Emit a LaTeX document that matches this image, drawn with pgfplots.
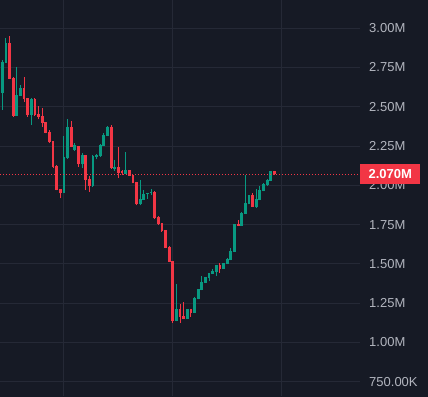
\documentclass[border=0pt]{standalone}
\usepackage{pgfplots}
\usepackage{pgfplotstable}
\usepackage{fontspec}
\setmainfont{Liberation Sans}
\pgfplotsset{compat=1.18}
\definecolor{bg}{HTML}{161A25}
\definecolor{gridc}{HTML}{252936}
\definecolor{up}{HTML}{089981}
\definecolor{dn}{HTML}{F23645}
\definecolor{lab}{HTML}{B2B5BE}
% columns: i low high bodylow bodyhigh
\pgfplotstableread{
i l h bl bh
0 2.479 2.797 2.589 2.786
1 2.778 2.935 2.780 2.907
4 2.439 2.754 2.441 2.574
5 2.568 2.638 2.570 2.621
8 2.384 2.553 2.447 2.549
17 1.950 2.314 1.953 2.182
18 2.170 2.422 2.172 2.373
20 2.220 2.267 2.225 2.256
22 2.108 2.204 2.135 2.193
25 1.990 2.190 1.996 2.186
26 2.165 2.199 2.182 2.193
27 2.180 2.260 2.186 2.256
28 2.250 2.331 2.252 2.320
29 2.314 2.375 2.316 2.369
31 2.093 2.161 2.106 2.118
34 2.070 2.212 2.072 2.097
38 1.873 2.034 1.879 1.913
39 1.905 1.970 1.909 1.945
40 1.913 1.952 1.945 1.949
41 1.938 1.976 1.951 1.957
48 1.135 1.372 1.139 1.213
51 1.149 1.215 1.151 1.213
53 1.188 1.292 1.190 1.285
54 1.275 1.342 1.277 1.340
55 1.332 1.423 1.334 1.385
56 1.378 1.418 1.380 1.415
57 1.391 1.445 1.408 1.442
58 1.436 1.466 1.438 1.457
59 1.425 1.495 1.448 1.493
61 1.468 1.508 1.470 1.506
62 1.499 1.535 1.501 1.531
63 1.523 1.601 1.525 1.582
64 1.576 1.757 1.578 1.754
66 1.741 1.828 1.743 1.826
67 1.817 2.066 1.819 1.887
68 1.879 1.941 1.881 1.938
70 1.855 1.975 1.860 1.911
71 1.904 1.996 1.906 1.970
72 1.962 2.012 1.964 2.008
73 1.998 2.038 2.000 2.034
74 2.025 2.094 2.027 2.091
}\uptab
\pgfplotstableread{
i l h bl bh
2 2.676 2.950 2.678 2.907
3 2.433 2.691 2.441 2.684
6 2.532 2.691 2.549 2.621
7 2.436 2.555 2.447 2.553
9 2.443 2.553 2.447 2.549
10 2.420 2.504 2.436 2.454
11 2.373 2.490 2.398 2.441
12 2.331 2.405 2.335 2.403
13 2.272 2.352 2.275 2.339
14 2.108 2.284 2.118 2.282
15 1.968 2.129 1.970 2.123
16 1.917 1.978 1.949 1.976
19 2.244 2.411 2.246 2.373
21 2.118 2.252 2.135 2.250
23 1.970 2.195 2.034 2.193
24 1.959 2.059 1.996 2.040
30 2.104 2.384 2.108 2.369
32 2.048 2.246 2.080 2.115
33 2.064 2.095 2.076 2.091
35 2.059 2.100 2.061 2.097
36 2.012 2.066 2.017 2.064
37 1.873 2.023 1.879 2.021
42 1.784 1.962 1.790 1.959
43 1.750 1.803 1.754 1.800
44 1.703 1.760 1.711 1.758
45 1.600 1.718 1.603 1.716
46 1.512 1.611 1.514 1.609
47 1.126 1.520 1.139 1.518
49 1.126 1.245 1.164 1.213
50 1.149 1.256 1.151 1.169
52 1.164 1.215 1.190 1.213
60 1.442 1.506 1.470 1.493
65 1.741 1.779 1.743 1.756
69 1.861 1.953 1.864 1.938
75 2.068 2.093 2.070 2.091
}\dntab
\begin{document}
\begin{tikzpicture}
\path[use as bounding box] (0,0) rectangle (428pt,396pt);
\fill[bg] (-2pt,-2pt) rectangle (430pt,398pt);
\begin{axis}[
  at={(0,0)}, anchor=south west,
  scale only axis, width=360pt, height=396pt,
  xmin=-0.634, xmax=98.6, ymin=0.6597, ymax=3.1788,
  axis line style={draw=none}, major tick length=0pt,
  xtick={17,47,77}, xticklabels={},
  ytick={0.75,1,1.25,1.5,1.75,2,2.25,2.5,2.75,3},
  yticklabels={750.00K,1.00M,1.25M,1.50M,1.75M,2.00M,2.25M,2.50M,2.75M,3.00M},
  yticklabel pos=right,
  yticklabel style={anchor=west, inner sep=0pt, xshift=9pt, text=lab, font=\fontsize{13}{15}\selectfont},
  grid=major, grid style={draw=gridc, line width=1pt},
  clip=false,
]
% wicks
\addplot[draw=none, mark=none, forget plot,
  error bars/.cd, y dir=plus, y explicit, error mark=none,
  error bar style={draw=up, line width=1pt}]
  table[x=i, y=l, y error expr={\thisrow{h}-\thisrow{l}}] {\uptab};
\addplot[draw=none, mark=none, forget plot,
  error bars/.cd, y dir=plus, y explicit, error mark=none,
  error bar style={draw=dn, line width=1pt}]
  table[x=i, y=l, y error expr={\thisrow{h}-\thisrow{l}}] {\dntab};
% bodies
\addplot[draw=none, mark=none, forget plot,
  error bars/.cd, y dir=plus, y explicit, error mark=none,
  error bar style={draw=up, line width=2.8pt}]
  table[x=i, y=bl, y error expr={\thisrow{bh}-\thisrow{bl}}] {\uptab};
\addplot[draw=none, mark=none, forget plot,
  error bars/.cd, y dir=plus, y explicit, error mark=none,
  error bar style={draw=dn, line width=2.8pt}]
  table[x=i, y=bl, y error expr={\thisrow{bh}-\thisrow{bl}}] {\dntab};
% last price line
\addplot[dn, line width=1pt, dash pattern=on 1pt off 2pt, forget plot]
  coordinates {(-0.634,2.07) (98.6,2.07)};
\node[fill=dn, text=white, anchor=west, minimum width=60pt, minimum height=20pt, inner sep=0pt,
  font=\fontsize{13}{15}\selectfont\bfseries] at (axis cs:98.6,2.07) {2.070M};
\end{axis}
\end{tikzpicture}
\end{document}
